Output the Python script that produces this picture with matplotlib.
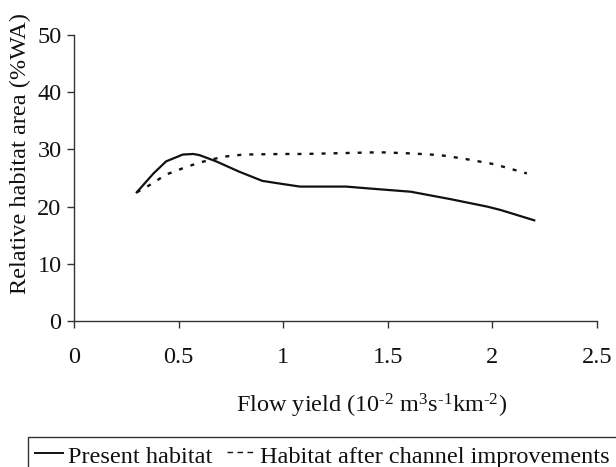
import matplotlib
matplotlib.use("Agg")
import matplotlib.pyplot as plt
from matplotlib.lines import Line2D

plt.rcParams['font.family'] = ['Liberation Serif', 'DejaVu Serif']
plt.rcParams['mathtext.fontset'] = 'custom'
plt.rcParams['mathtext.rm'] = 'Liberation Serif'
plt.rcParams['mathtext.it'] = 'Liberation Serif:italic'

# Data
present_x = [0.30, 0.38, 0.44, 0.52, 0.57, 0.60, 0.68, 0.79, 0.90, 0.97, 1.08, 1.30, 1.40, 1.61, 1.80, 1.975, 2.04, 2.20]
present_y = [22.5, 25.8, 27.9, 29.1, 29.2, 29.0, 27.9, 26.1, 24.5, 24.1, 23.5, 23.5, 23.2, 22.6, 21.3, 20.0, 19.4, 17.6]

improved_x = [0.30, 0.35, 0.44, 0.52, 0.60, 0.71, 0.81, 1.00, 1.10, 1.46, 1.61, 1.75, 1.86, 2.01, 2.165]
improved_y = [22.5, 23.5, 25.6, 26.7, 27.7, 28.7, 29.1, 29.2, 29.2, 29.5, 29.3, 29.0, 28.4, 27.4, 25.8]

x_ticks = [0, 0.5, 1, 1.5, 2, 2.5]
x_tick_labels = ['0', '0.5', '1', '1.5', '2', '2.5']
y_ticks = [0, 10, 20, 30, 40, 50]

FS = 17.5
W, H = 616, 467
fig = plt.figure(figsize=(W / 100, H / 100), dpi=100)
ax = fig.add_axes([74 / W, 1 - 321 / H, (597 - 74) / W, (321 - 35) / H])

ax.plot(present_x, present_y, color='#111111', lw=1.6, solid_joinstyle='round')
ax.plot(improved_x, improved_y, color='#111111', lw=1.7, linestyle=(0, (1.7, 3.4)))

ax.set_xlim(0, 2.5)
ax.set_ylim(0, 50)
ax.set_xticks(x_ticks)
ax.set_xticklabels(x_tick_labels)
ax.set_yticks(y_ticks)

for s in ['top', 'right']:
    ax.spines[s].set_visible(False)
for s in ['left', 'bottom']:
    ax.spines[s].set_color('#333333')
    ax.spines[s].set_linewidth(1.0)

ax.tick_params(axis='x', direction='out', length=5, width=1, colors='#333333',
               labelcolor='#111111', labelsize=FS, pad=14)
ax.tick_params(axis='y', direction='out', length=5, width=1, colors='#333333',
               labelcolor='#111111', labelsize=FS, pad=4)

fig.text(20 / W, 1 - 153 / H, 'Relative habitat area (%WA)', fontsize=FS,
         rotation=90, ha='center', va='center', color='#111111')

fig.text(236 / W, 1 - 412 / H,
         'Flow yield (10$^{\\text{-2}}$ m$^{3}$s$^{\\text{-1}}$km$^{\\text{-2}}$)',
         fontsize=FS, ha='left', va='baseline', color='#111111')

# Legend box (partially outside the figure)
fig.add_artist(Line2D([28 / W, 28 / W, 1.0], [0, 1 - 437 / H, 1 - 437 / H],
                      transform=fig.transFigure, color='#333333', lw=1.0))
# Legend entries
fig.add_artist(Line2D([35 / W, 63 / W], [1 - 453 / H, 1 - 453 / H],
                      transform=fig.transFigure, color='#111111', lw=1.4))
fig.text(68 / W, 1 - 463 / H, 'Present habitat', fontsize=FS, va='baseline', ha='left', color='#111111')
fig.add_artist(Line2D([227 / W, 253 / W], [1 - 452 / H, 1 - 452 / H],
                      transform=fig.transFigure, color='#111111', lw=1.0,
                      linestyle=(0, (4, 3.2))))
fig.text(260 / W, 1 - 463 / H, 'Habitat after channel improvements', fontsize=FS,
         va='baseline', ha='left', color='#111111')

fig.savefig('out.png', dpi=100)
